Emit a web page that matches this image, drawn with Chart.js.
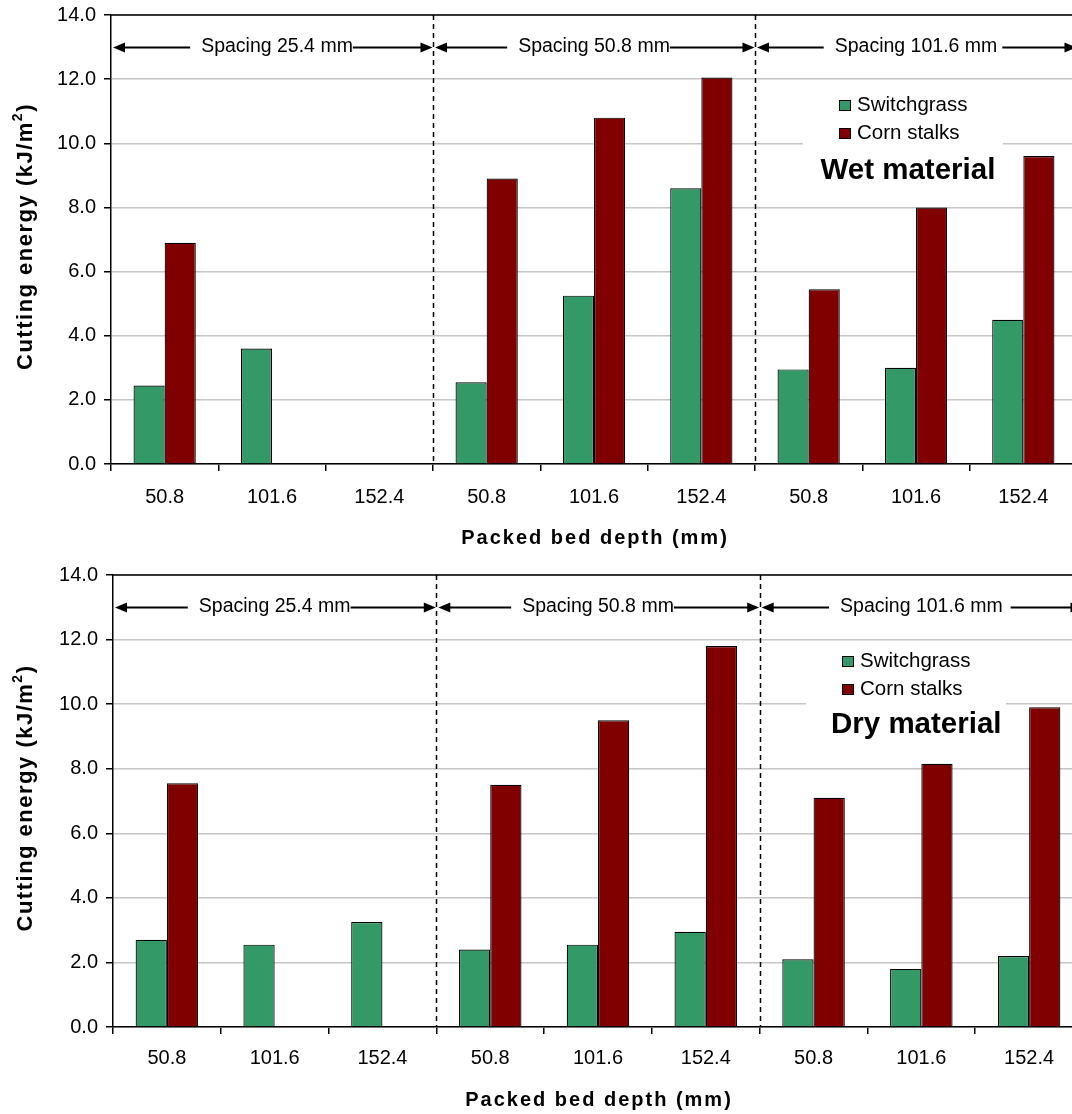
<!DOCTYPE html>
<html>
<head>
<meta charset="utf-8">
<script src="https://cdn.jsdelivr.net/npm/chart.js@4/dist/chart.umd.min.js"></script>
<style>
html,body{margin:0;padding:0;background:#fff;overflow:hidden;width:1072px;height:1114px;}
#w1{position:absolute;left:0;top:0;}
#w2{position:absolute;left:0;top:560px;}
canvas{display:block;}
</style>
</head>
<body>
<div id="w1"><canvas id="c1" width="1080" height="560"></canvas></div>
<div id="w2"><canvas id="c2" width="1086" height="554"></canvas></div>
<script>
// ---- data ----
const categories = ['50.8','101.6','152.4','50.8','101.6','152.4','50.8','101.6','152.4'];
const spacingLabels = ['Spacing 25.4 mm','Spacing 50.8 mm','Spacing 101.6 mm'];
const seriesNames = ['Switchgrass','Corn stalks'];
const wetSwitchgrass = [2.45, 3.6, null, 2.55, 5.25, 8.6, 2.95, 3.0, 4.5];
const wetCornStalks  = [6.9, null, null, 8.9, 10.8, 12.05, 5.45, 8.0, 9.6];
const drySwitchgrass = [2.7, 2.55, 3.25, 2.4, 2.55, 2.95, 2.1, 1.8, 2.2];
const dryCornStalks  = [7.55, null, null, 7.5, 9.5, 11.8, 7.1, 8.15, 9.9];
const yTicks = [0, 2, 4, 6, 8, 10, 12, 14];
const xTitle = 'Packed bed depth (mm)';
const yTitleMain = 'Cutting energy (kJ/m';
const yTitleSup = '2';
const yTitleEnd = ')';

const FAM = '"Liberation Sans", Arial, Helvetica, sans-serif';
const colors = ['#339966', '#800000'];

const decoPlugin = {
  id: 'deco',
  beforeDatasetsDraw(chart, args, o) {
    const ctx = chart.ctx, a = chart.chartArea;
    ctx.save();
    ctx.fillStyle = '#fff';
    ctx.fillRect(a.left + o.box[0], a.top + o.box[1], o.box[2], o.box[3]);
    ctx.restore();
  },
  afterDraw(chart, args, o) {
    const ctx = chart.ctx, a = chart.chartArea, xs = chart.scales.x, ys = chart.scales.y;
    ctx.save();
    // top border
    ctx.strokeStyle = '#000';
    ctx.lineWidth = 1.5;
    ctx.beginPath(); ctx.moveTo(a.left, a.top); ctx.lineTo(a.right + 5, a.top); ctx.stroke();
    // separators
    const bnd = i => (xs.getPixelForValue(i) + xs.getPixelForValue(i + 1)) / 2;
    ctx.setLineDash([5, 4]);
    [2, 5].forEach(i => {
      const px = Math.round(bnd(i)) + 0.5;
      ctx.beginPath(); ctx.moveTo(px, a.top); ctx.lineTo(px, a.bottom); ctx.stroke();
    });
    ctx.setLineDash([]);
    // spacing arrows
    const ay = Math.round(ys.getPixelForValue(13)) + 0.5;
    ctx.font = '19.5px ' + FAM;
    ctx.fillStyle = '#000';
    ctx.textBaseline = 'middle';
    ctx.textAlign = 'center';
    const head = (tipX, dir) => {
      ctx.beginPath();
      ctx.moveTo(tipX, ay);
      ctx.lineTo(tipX - dir * 12, ay - 5);
      ctx.lineTo(tipX - dir * 12, ay + 5);
      ctx.closePath(); ctx.fill();
    };
    spacingLabels.forEach((lab, g) => {
      const left = (g === 0 ? a.left : bnd(g * 3 - 1)) + 2;
      const right = (g === 2 ? a.right : bnd(g * 3 + 2)) - 0.5;
      const cx = xs.getPixelForValue(g * 3 + 1) + (o.textShift[g] || 0);
      const w = ctx.measureText(lab).width;
      ctx.fillText(lab, cx, ay - 1);
      ctx.lineWidth = 1.8;
      ctx.beginPath(); ctx.moveTo(left + 6, ay); ctx.lineTo(cx - w / 2 - 11, ay); ctx.stroke();
      ctx.beginPath(); ctx.moveTo(cx + w / 2 + o.rightGap[g], ay); ctx.lineTo(right - 6, ay); ctx.stroke();
      head(left, -1);
      head(right, 1);
    });
    // legend
    ctx.textAlign = 'left';
    ctx.textBaseline = 'alphabetic';
    ctx.font = '20.5px ' + FAM;
    chart.data.datasets.forEach((ds, i) => {
      const bx = a.left + o.legend[0], by = a.top + o.legend[1] + i * 28;
      ctx.fillStyle = ds.backgroundColor;
      ctx.fillRect(bx, by, 12, 11);
      ctx.strokeStyle = '#000'; ctx.lineWidth = 1;
      ctx.strokeRect(bx + 0.5, by + 0.5, 11, 10);
      ctx.fillStyle = '#000';
      ctx.fillText(ds.label, bx + 18, a.top + o.legendBase + i * 28);
    });
    // material label
    ctx.font = 'bold 29.5px ' + FAM;
    ctx.fillText(o.material, a.left + o.matPos[0], a.top + o.matPos[1]);
    // x title
    ctx.font = 'bold 20px ' + FAM;
    ctx.textAlign = 'center';
    try { ctx.letterSpacing = '2px'; } catch (e) {}
    ctx.fillText(xTitle, (a.left + a.right) / 2 + 1, a.bottom + o.xTitleOff);
    try { ctx.letterSpacing = '1.5px'; } catch (e) {}
    // y title (rotated)
    ctx.translate(o.yTitleX, (a.top + a.bottom) / 2 + o.yTitleShift);
    ctx.rotate(-Math.PI / 2);
    ctx.textAlign = 'left';
    const fMain = 'bold 22px ' + FAM, fSup = 'bold 14px ' + FAM;
    ctx.font = fMain;
    const w1 = ctx.measureText(yTitleMain).width;
    const w3 = ctx.measureText(yTitleEnd).width;
    ctx.font = fSup;
    const w2 = ctx.measureText(yTitleSup).width;
    let sx = -(w1 + w2 + w3) / 2;
    ctx.font = fMain; ctx.fillText(yTitleMain, sx, 0); sx += w1;
    ctx.font = fSup; ctx.fillText(yTitleSup, sx, -10); sx += w2;
    ctx.font = fMain; ctx.fillText(yTitleEnd, sx, 0);
    ctx.restore();
  }
};

function makeChart(id, sw, cs, axisW, axisH, labelPad, deco) {
  return new Chart(document.getElementById(id), {
    type: 'bar',
    data: {
      labels: categories,
      datasets: [
        { label: seriesNames[0], data: sw, backgroundColor: colors[0], borderColor: '#000', borderWidth: 1.2 },
        { label: seriesNames[1], data: cs, backgroundColor: colors[1], borderColor: '#000', borderWidth: 1.2 }
      ]
    },
    options: {
      responsive: false,
      animation: false,
      events: [],
      datasets: { bar: { categoryPercentage: 0.58, barPercentage: 1.0 } },
      layout: { padding: { top: 15, left: 0, right: 3, bottom: 0 } },
      plugins: { legend: { display: false }, tooltip: { enabled: false }, deco: deco },
      scales: {
        x: {
          offset: true,
          grid: { display: true, drawOnChartArea: false, drawTicks: true, tickLength: 7, tickColor: '#000', offset: true, lineWidth: 1.5 },
          border: { display: true, color: '#000', width: 1.5 },
          ticks: { color: '#000', font: { family: FAM, size: 20 }, padding: labelPad, maxRotation: 0, autoSkip: false },
          afterFit: s => { s.height = axisH; }
        },
        y: {
          min: 0, max: 14,
          afterBuildTicks: s => { s.ticks = yTicks.map(v => ({ value: v })); },
          grid: { color: '#c6c6c6', lineWidth: 1.5, tickColor: '#000', tickLength: 7, drawTicks: true },
          border: { display: true, color: '#000', width: 1.5 },
          ticks: { color: '#000', font: { family: FAM, size: 20, lineHeight: 0.6 }, padding: 8, callback: v => Number(v).toFixed(1) },
          afterFit: s => { s.width = axisW; }
        }
      }
    },
    plugins: [decoPlugin]
  });
}

makeChart('c1', wetSwitchgrass, wetCornStalks, 111, 96, 14, {
  box: [692, 72, 200, 105],
  legend: [728, 85], legendBase: 95.7,
  material: 'Wet material', matPos: [709.5, 164],
  textShift: [5, 0, 0], rightGap: [0, 0, 5],
  xTitleOff: 80, yTitleX: 32, yTitleShift: -3
});
makeChart('c2', drySwitchgrass, dryCornStalks, 113, 87, 12, {
  box: [693, 72, 200, 100],
  legend: [729, 81], legendBase: 91.7,
  material: 'Dry material', matPos: [718, 158],
  textShift: [0, 0, 0], rightGap: [0, 0, 8],
  xTitleOff: 79, yTitleX: 32, yTitleShift: -3
});
</script>
</body>
</html>
